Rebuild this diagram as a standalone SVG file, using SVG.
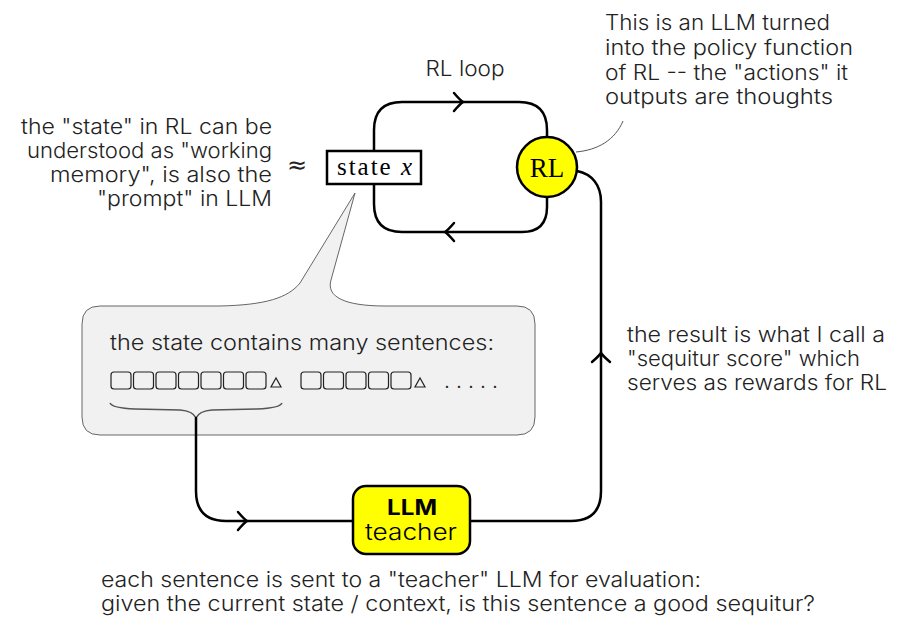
<svg xmlns="http://www.w3.org/2000/svg" width="902" height="628" viewBox="0 0 902 628">
<defs>
<style>
.t{font-family:Inter,"Noto Sans","Open Sans",sans-serif;font-weight:300;font-size:21px;fill:#222}
.ser{font-family:"Liberation Serif","DejaVu Serif",serif;fill:#000}
.wire{fill:none;stroke:#000;stroke-width:2.5;stroke-linecap:round}
.thin{fill:none;stroke:#555;stroke-width:1}
.box{fill:none;stroke:#222;stroke-width:1.2}
</style>
<path id="chev" d="M-8,-9 Q-2,-2 1,0 Q-2,2 -8,9" fill="none" stroke="#000" stroke-width="2.5" stroke-linecap="round"/>
</defs>
<rect width="902" height="628" fill="#fff"/>

<g id="callout">
<path d="M82,324 Q82,306 100,306 L220,306 C265,305 288,298 300,283 L355,193 L331,280 C326,297 345,306 385,306 L517,306 Q535,306 535,324 L535,417 Q535,435 517,435 L100,435 Q82,435 82,417 Z" fill="#f1f1f1" stroke="#666" stroke-width="1"/>
<text class="t" x="110" y="350" textLength="384" lengthAdjust="spacingAndGlyphs">the state contains many sentences:</text>
<g class="box">
<rect x="111" y="372" width="20" height="17" rx="3"/>
<rect x="133.5" y="372" width="20" height="17" rx="3"/>
<rect x="156" y="372" width="20" height="17" rx="3"/>
<rect x="178.5" y="372" width="20" height="17" rx="3"/>
<rect x="201" y="372" width="20" height="17" rx="3"/>
<rect x="223.5" y="372" width="20" height="17" rx="3"/>
<rect x="246" y="372" width="20" height="17" rx="3"/>
<polygon points="271,387 281,387 276,378"/>
<rect x="301" y="372" width="20" height="17" rx="3"/>
<rect x="323.5" y="372" width="20" height="17" rx="3"/>
<rect x="346" y="372" width="20" height="17" rx="3"/>
<rect x="368.5" y="372" width="20" height="17" rx="3"/>
<rect x="391" y="372" width="20" height="17" rx="3"/>
<polygon points="415,387 425,387 420,378"/>
</g>
<text class="t" x="444" y="388" textLength="54" lengthAdjust="spacing">. . . . .</text>
<path d="M110,403 Q112,408 135,409 L180,410 Q193,411 196,418 Q199,411 212,410 L257,409 Q280,408 282,403" fill="none" stroke="#555" stroke-width="1.5"/>
</g>

<g id="connectors">
<path class="wire" d="M547,136 L547,130 Q547,102 519,102 L402,102 Q374,102 374,130 L374,204 Q374,232 402,232 L522,232 Q547,232 547,207 L547,197"/>
<path class="wire" d="M577,171 C592,174 601,185 601,202 L601,491 Q601,521 571,521 L470,521"/>
<path class="wire" d="M353,521 L226,521 Q196,521 196,491 L196,418"/>
<use href="#chev" transform="translate(462,102)"/>
<use href="#chev" transform="translate(446,232) rotate(180)"/>
<use href="#chev" transform="translate(601,354) rotate(-90)"/>
<use href="#chev" transform="translate(246,521)"/>
<path class="thin" d="M623,121 C615,140 598,150 576,152"/>
</g>

<g id="state">
<rect x="327" y="151" width="94" height="33" fill="#fff" stroke="#000" stroke-width="2.5"/>
<text class="ser" x="337" y="175" font-size="25" textLength="75" lengthAdjust="spacing">state <tspan font-style="italic">x</tspan></text>
</g>

<g id="rl">
<circle cx="547" cy="167" r="30" fill="#ffff00" stroke="#000" stroke-width="2.5"/>
<text class="ser" x="547" y="177" font-size="27" text-anchor="middle">RL</text>
</g>

<g id="teacher">
<rect x="353" y="486" width="117" height="68" rx="13" fill="#ffff00" stroke="#000" stroke-width="2.5"/>
<text x="412" y="515" text-anchor="middle" font-family="Inter, Noto Sans, sans-serif" font-weight="700" font-size="21" fill="#000" textLength="50" lengthAdjust="spacingAndGlyphs">LLM</text>
<text x="411" y="540" text-anchor="middle" class="t" style="fill:#000;font-size:23px" textLength="92" lengthAdjust="spacingAndGlyphs">teacher</text>
</g>

<g id="labels">
<text class="t" x="465" y="76" text-anchor="middle" textLength="79" lengthAdjust="spacingAndGlyphs">RL loop</text>
<text class="t" x="605" y="30" textLength="225" lengthAdjust="spacingAndGlyphs">This is an LLM turned</text>
<text class="t" x="605" y="55" textLength="248" lengthAdjust="spacingAndGlyphs">into the policy function</text>
<text class="t" x="605" y="80" textLength="243" lengthAdjust="spacingAndGlyphs">of RL -- the "actions" it</text>
<text class="t" x="605" y="104" textLength="228" lengthAdjust="spacingAndGlyphs">outputs are thoughts</text>
<text class="t" x="272" y="134" text-anchor="end" textLength="251" lengthAdjust="spacingAndGlyphs">the "state" in RL can be</text>
<text class="t" x="272" y="158" text-anchor="end" textLength="245" lengthAdjust="spacingAndGlyphs">understood as "working</text>
<text class="t" x="272" y="182" text-anchor="end" textLength="222" lengthAdjust="spacingAndGlyphs">memory", is also the</text>
<text class="t" x="272" y="206" text-anchor="end" textLength="175" lengthAdjust="spacingAndGlyphs">"prompt" in LLM</text>
<text x="297" y="173" text-anchor="middle" font-family="DejaVu Sans, sans-serif" font-size="24" fill="#222">≈</text>
<text class="t" x="627" y="342" textLength="258" lengthAdjust="spacingAndGlyphs">the result is what I call a</text>
<text class="t" x="627" y="366" textLength="233" lengthAdjust="spacingAndGlyphs">"sequitur score" which</text>
<text class="t" x="627" y="390" textLength="260" lengthAdjust="spacingAndGlyphs">serves as rewards for RL</text>
<text class="t" x="101" y="587" textLength="600" lengthAdjust="spacingAndGlyphs">each sentence is sent to a "teacher" LLM for evaluation:</text>
<text class="t" x="101" y="611" textLength="714" lengthAdjust="spacingAndGlyphs">given the current state / context, is this sentence a good sequitur?</text>
</g>
</svg>
